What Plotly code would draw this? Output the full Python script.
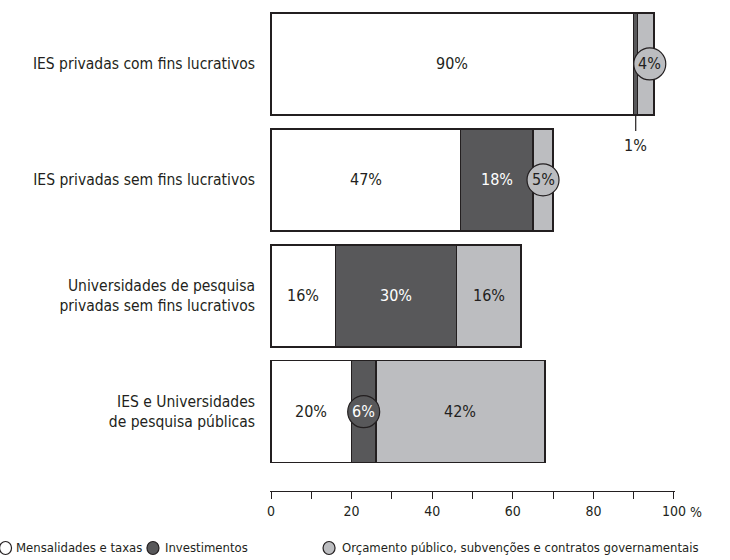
import plotly.graph_objects as go

categories = [
    "IES privadas com fins lucrativos",
    "IES privadas sem fins lucrativos",
    "Universidades de pesquisa<br>privadas sem fins lucrativos",
    "IES e Universidades<br>de pesquisa públicas",
]
series_names = [
    "Mensalidades e taxas",
    "Investimentos",
    "Orçamento público, subvenções e contratos governamentais",
]
mensalidades = [90, 47, 16, 20]
investimentos = [1, 18, 30, 6]
orcamento = [4, 5, 16, 42]
tick_values = [0, 10, 20, 30, 40, 50, 60, 70, 80, 90, 100]
tick_labels = ["0", "", "20", "", "40", "", "60", "", "80", "", "100"]

series = [mensalidades, investimentos, orcamento]
fills = ["#ffffff", "#58585a", "#bcbdc0"]
text_colors = ["#231f20", "#ffffff", "#231f20"]
INK = "#231f20"
FONT = "DejaVu Sans Condensed, Liberation Sans Narrow, Roboto, sans-serif"

# which labels are drawn in a bubble, and which with a leader line
bubble = {(0, 2), (1, 2), (3, 1)}
leader = {(0, 1)}

fig = go.Figure()
ypos = list(range(len(categories)))
for s, (vals, name, col) in enumerate(zip(series, series_names, fills)):
    fig.add_trace(go.Bar(
        y=ypos, x=vals, name=name, orientation="h",
        marker=dict(color=col, line=dict(color=INK, width=1.5)),
        width=0.88, showlegend=False, hoverinfo="x+name",
    ))

annotations = []
shapes = []
for i in range(len(categories)):
    start = 0
    for s, vals in enumerate(series):
        v = vals[i]
        mid = start + v / 2
        label = f"{v}%"
        if (i, s) in leader:
            shapes.append(dict(type="line", xref="x", yref="y", ysizemode="pixel",
                               yanchor=i + 0.44, y0=0, y1=-16, x0=mid, x1=mid,
                               line=dict(color=INK, width=1.2)))
            annotations.append(dict(x=mid, y=i + 0.44, xref="x", yref="y", text=label,
                                    showarrow=False, yshift=-31,
                                    font=dict(size=16, color=INK, family=FONT)))
        else:
            xshift = 0
            if (i, s) in bubble:
                xshift = 4 if i == 0 else 0
                shapes.append(dict(type="circle", xref="x", yref="y",
                                   xsizemode="pixel", ysizemode="pixel",
                                   xanchor=mid, yanchor=i,
                                   x0=xshift - 16, x1=xshift + 16, y0=-16, y1=16,
                                   fillcolor=fills[s], line=dict(color=INK, width=1.2),
                                   layer="above"))
            annotations.append(dict(x=mid, y=i, xref="x", yref="y", text=label,
                                    showarrow=False, xshift=xshift,
                                    font=dict(size=16, color=text_colors[s], family=FONT)))
        start += v

# percent sign after the 100 tick
annotations.append(dict(x=100, y=0, xref="x", yref="paper", text="%", showarrow=False,
                        xanchor="left", yanchor="middle", xshift=14, yshift=-21,
                        font=dict(size=14, color=INK, family=FONT)))

# manual legend
leg_sym_x = [-0.653, -0.289, 0.1458]
leg_txt_x = [-0.632, -0.2644, 0.173]
leg_y = -0.1175
for name, col, sx, tx in zip(series_names, fills, leg_sym_x, leg_txt_x):
    shapes.append(dict(type="circle", xref="paper", yref="paper",
                       xsizemode="pixel", ysizemode="pixel",
                       xanchor=sx, yanchor=leg_y, x0=-6, x1=6, y0=-6.5, y1=6.5,
                       fillcolor=col, line=dict(color=INK, width=1.2)))
    annotations.append(dict(x=tx, y=leg_y, xref="paper", yref="paper", text=name,
                            showarrow=False, xanchor="left", yanchor="middle",
                            font=dict(size=13, color=INK, family=FONT)))

fig.update_layout(
    width=730, height=560,
    margin=dict(l=270, r=55, t=6, b=69),
    barmode="stack",
    plot_bgcolor="white", paper_bgcolor="white",
    font=dict(family=FONT, color=INK),
    annotations=annotations, shapes=shapes,
    xaxis=dict(range=[-0.25, 100.25], tickvals=tick_values, ticktext=tick_labels,
               ticks="outside", ticklen=7, tickwidth=1.2, tickcolor=INK,
               showline=True, linecolor=INK, linewidth=1.2, showgrid=False,
               zeroline=False, tickfont=dict(size=14, color=INK, family=FONT)),
    yaxis=dict(range=[3.684, -0.5], tickvals=ypos, ticktext=categories,
               showgrid=False, zeroline=False, showline=False, ticks="",
               ticklabelstandoff=14, tickfont=dict(size=15.5, color=INK, family=FONT)),
)

fig.write_html("out.html", config={"displayModeBar": False},
               post_script="document.body.style.margin='0px';")
